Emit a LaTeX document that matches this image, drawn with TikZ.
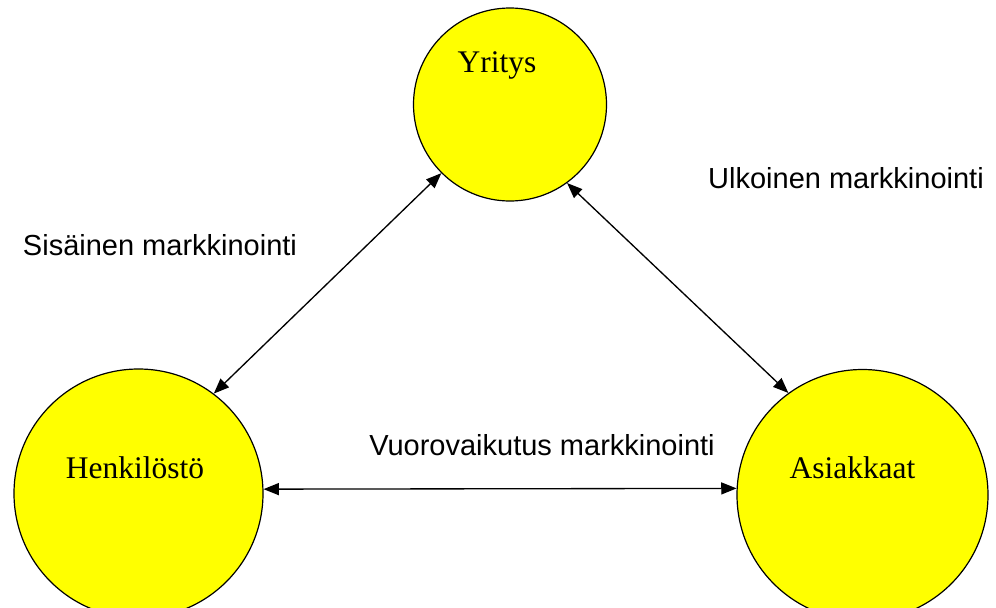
\documentclass[tikz,border=0pt]{standalone}
\usepackage{fontspec}
\setmainfont{Liberation Serif}
\newfontfamily\arialfont{Liberation Sans}
\usetikzlibrary{arrows.meta}
\definecolor{keltainen}{RGB}{255,255,0}

\begin{document}
\begin{tikzpicture}[x=0.75pt, y=-0.75pt, >={Triangle[length=11.5pt, width=9pt]},
  osapuoli/.style={circle, draw=black, line width=0.9pt, fill=keltainen, inner sep=0pt},
  nimi/.style={font=\fontsize{23.6pt}{28pt}\selectfont, inner sep=0pt},
  suhde/.style={font=\arialfont\fontsize{21.75pt}{26pt}\selectfont, inner sep=0pt},
  nuoli/.style={<->, line width=1pt}]

\useasboundingbox (0, 0) rectangle (996, 607);

% osapuolet
\node[osapuoli, minimum size=144.75pt] (yritys) at (510, 104.5) {};
\node[osapuoli, minimum size=186.75pt] (henkilosto) at (138.5, 493.5) {};
\node[osapuoli, minimum size=188.25pt] (asiakkaat) at (862.5, 495) {};

\node[nimi] (yritysnimi) at ([shift={(-13, -39.5)}]yritys.center) {Yritys};
\node[nimi] (henkilostonimi) at ([shift={(-3.5, -25.5)}]henkilosto.center) {Henkilöstö};
\node[nimi] (asiakkaatnimi) at ([shift={(-10, -27)}]asiakkaat.center) {Asiakkaat};

% markkinoinnin muodot
\node[suhde] (sisainen) at (160, 245) {Sisäinen markkinointi};
\node[suhde] (ulkoinen) at (846, 178) {Ulkoinen markkinointi};
\node[suhde] (vuorovaikutus) at (542, 445) {Vuorovaikutus markkinointi};

\draw[nuoli] (yritys.225.6) -- (henkilosto.53.7);
\draw[nuoli] (yritys.306.8) -- (asiakkaat.126.2);
\draw[nuoli] (henkilosto.2) -- (asiakkaat.177.3);
\end{tikzpicture}
\end{document}
